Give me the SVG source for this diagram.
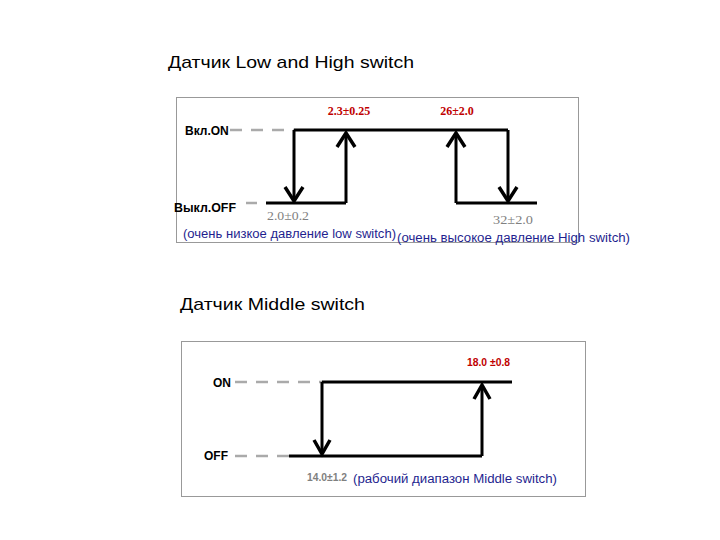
<svg xmlns="http://www.w3.org/2000/svg" width="720" height="540" viewBox="0 0 720 540">
<style>
.title{font-family:"Liberation Sans",Arial,sans-serif;font-size:17px;fill:#000}
.lvl{font-family:"Liberation Sans",Arial,sans-serif;font-size:12px;font-weight:bold;fill:#000}
.red{font-family:"Liberation Serif","Times New Roman",serif;font-size:12px;font-weight:bold;fill:#c00000}
.reds{font-family:"Liberation Sans",Arial,sans-serif;font-size:11px;font-weight:bold;fill:#c00000}
.gray{font-family:"Liberation Serif","Times New Roman",serif;font-size:13px;fill:#808080}
.grays{font-family:"Liberation Sans",Arial,sans-serif;font-size:11px;font-weight:bold;fill:#808080}
.blue{font-family:"Liberation Sans",Arial,sans-serif;font-size:12px;fill:#1f1f8f}
.frame{fill:none;stroke:#999;stroke-width:1}
.line{fill:none;stroke:#000;stroke-width:3}
.dash{fill:none;stroke:#aaa;stroke-width:2.5;stroke-dasharray:12,9}
.head{fill:none;stroke:#000;stroke-width:3.5;stroke-linejoin:miter}
</style>
<rect width="720" height="540" fill="#fff"/>
<text class="title" x="168" y="68" textLength="246" lengthAdjust="spacingAndGlyphs">Датчик Low and High switch</text>
<text class="title" x="180" y="310" textLength="185" lengthAdjust="spacingAndGlyphs">Датчик Middle switch</text>

<g id="frame1"><rect class="frame" x="176.5" y="97.5" width="402" height="145"/></g>
<g id="frame2"><rect class="frame" x="181.5" y="341.5" width="404" height="155"/></g>

<g id="labels1">
<text class="lvl" x="185" y="135">Вкл.ON</text>
<text class="lvl" x="174" y="212" textLength="62" lengthAdjust="spacingAndGlyphs">Выкл.OFF</text>
<text class="red" x="349" y="115" text-anchor="middle">2.3±0.25</text>
<text class="red" x="457" y="115" text-anchor="middle">26±2.0</text>
<text class="gray" x="267" y="220" textLength="42" lengthAdjust="spacingAndGlyphs">2.0±0.2</text>
<text class="gray" x="493" y="224" textLength="40" lengthAdjust="spacingAndGlyphs">32±2.0</text>
<text class="blue" x="183" y="238" textLength="213" lengthAdjust="spacingAndGlyphs">(очень низкое давление low switch)</text>
<text class="blue" x="397" y="242" textLength="233" lengthAdjust="spacingAndGlyphs">(очень высокое давление High switch)</text>
</g>

<g id="labels2">
<text class="lvl" x="213" y="387">ON</text>
<text class="lvl" x="204" y="460">OFF</text>
<text class="reds" x="467" y="366" textLength="43" lengthAdjust="spacingAndGlyphs">18.0 ±0.8</text>
<text class="grays" x="307" y="481" textLength="40" lengthAdjust="spacingAndGlyphs">14.0±1.2</text>
<text class="blue" x="353" y="483" textLength="204" lengthAdjust="spacingAndGlyphs">(рабочий диапазон Middle switch)</text>
</g>

<g id="connectors">
<line class="dash" x1="230" y1="130" x2="294" y2="130" stroke-dasharray="9,9"/>
<line class="dash" x1="246" y1="203" x2="257" y2="203" stroke-dasharray="none"/>
<polyline class="line" points="294,130 508,130"/>
<polyline class="line" points="266,203 346,203"/>
<polyline class="line" points="456,203 537,203"/>
<line class="line" x1="294" y1="130" x2="294" y2="201" stroke-width="2.5"/>
<polyline class="head" points="285,187 294,201 303,187"/>
<line class="line" x1="346" y1="203" x2="346" y2="133"/>
<polyline class="head" points="337,147 346,133 355,147"/>
<line class="line" x1="456" y1="203" x2="456" y2="133"/>
<polyline class="head" points="447,147 456,133 465,147"/>
<line class="line" x1="508" y1="130" x2="508" y2="201"/>
<polyline class="head" points="499,187 508,201 517,187"/>
<line class="dash" x1="235" y1="382" x2="322" y2="382"/>
<line class="dash" x1="235" y1="456" x2="289" y2="456"/>
<polyline class="line" points="322,382 512,382"/>
<polyline class="line" points="289,456 482,456"/>
<line class="line" x1="322" y1="382" x2="322" y2="454" stroke-width="2.5"/>
<polyline class="head" points="314,440 322,454 330,440"/>
<line class="line" x1="482" y1="456" x2="482" y2="385"/>
<polyline class="head" points="474,399 482,385 490,399"/>
</g>
</svg>
